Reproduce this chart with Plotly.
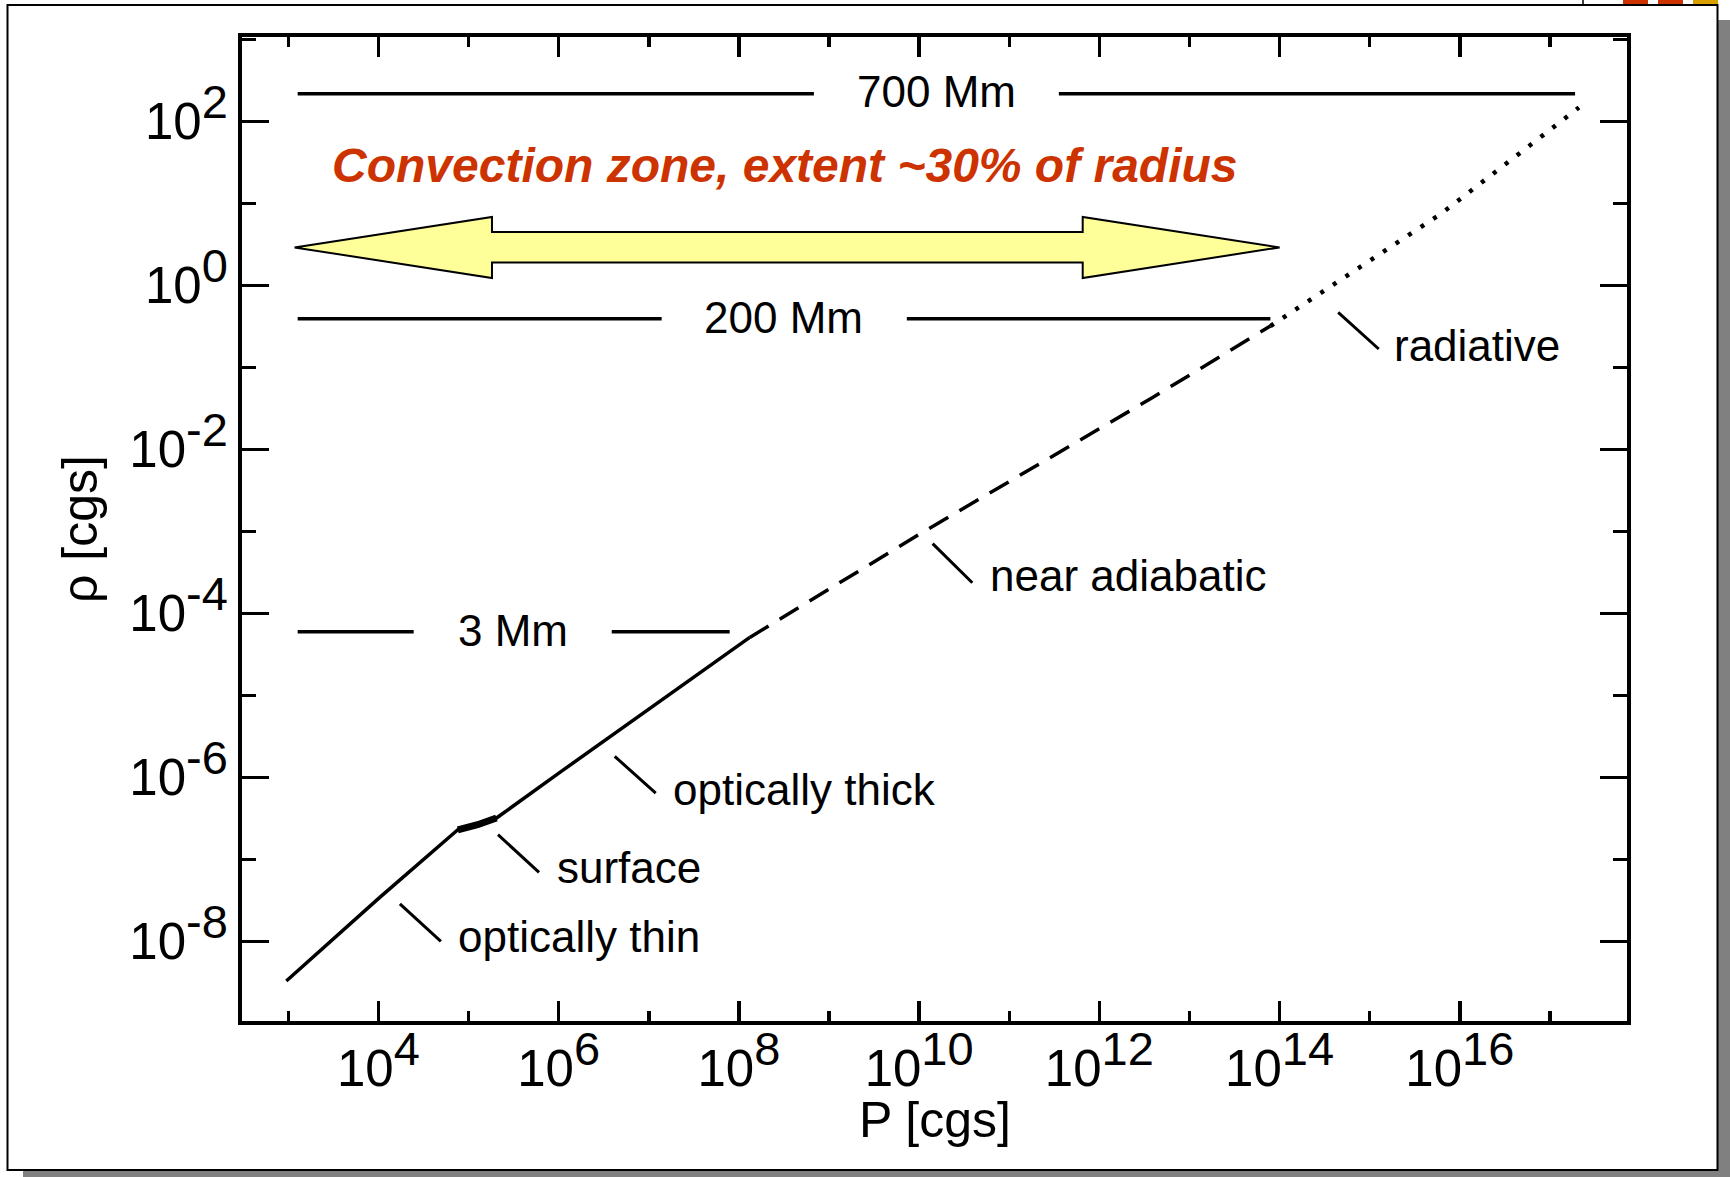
import plotly.graph_objects as go

# ---------------- data (cgs units) ----------------
P_solid = [9.5e2, 1.02e4, 7.6e4, 1.26e5, 2.04e5, 1.05e6, 2.63e6, 1.45e7, 1.32e8]
rho_solid = [3.3e-9, 3.4e-8, 2.3e-7, 2.7e-7, 3.2e-7, 1.17e-6, 2.4e-6, 8.9e-6, 5.1e-5]
P_surface = [7.6e4, 1.26e5, 2.04e5]
rho_surface = [2.3e-7, 2.65e-7, 3.2e-7]
P_dashed = [1.32e8, 9.8e9, 3.9e12, 7.9e13]
rho_dashed = [5.1e-5, 9.1e-4, 4.3e-2, 0.32]
P_dotted = [7.9e13, 6.3e15, 2.1e17]
rho_dotted = [0.32, 7.6, 148.0]

# depth scale bars
bar_labels = ["700 Mm", "200 Mm", "3 Mm"]
bar_rho = [2.18e2, 0.393, 6.0e-5]
bar_P_start = [1.27e3, 1.27e3, 1.27e3]
bar_P_gap_left = [6.8e8, 1.39e7, 2.46e4]
bar_P_gap_right = [3.55e11, 7.3e9, 3.88e6]
bar_P_end = [1.9e17, 7.9e13, 7.9e7]
bar_label_logP = [10.19, 8.50, 5.49]
bar_label_logrho = [2.363, -0.393, -4.21]

# region labels with leader strokes (log10 units)
region_labels = ["optically thin", "surface", "optically thick", "near adiabatic", "radiative"]
leader_logP0 = [4.238, 5.327, 6.622, 10.15, 14.65]
leader_logP1 = [4.693, 5.782, 7.077, 10.59, 15.10]
leader_logrho0 = [-7.541, -6.698, -5.743, -3.149, -0.329]
leader_logrho1 = [-8.00, -7.158, -6.19, -3.625, -0.775]
label_logP = [4.857, 5.956, 7.243, 10.76, 15.25]
label_logrho = [-7.936, -7.10, -6.149, -3.54, -0.735]

# convection-zone double arrow (log10 units)
arrow_logP = [3.069, 5.26, 5.26, 11.815, 11.815, 14.0, 11.815, 11.815, 5.26, 5.26, 3.069]
arrow_logrho = [0.464, 0.835, 0.652, 0.652, 0.835, 0.464, 0.091, 0.281, 0.281, 0.091, 0.464]

title_text = "Convection zone, extent ~30% of radius"

x_major = [4, 6, 8, 10, 12, 14, 16]
x_minor = [3, 5, 7, 9, 11, 13, 15, 17]
y_major = [-8, -6, -4, -2, 0, 2]
y_minor = [-7, -5, -3, -1, 1, 3]

FONT = "Liberation Sans, Arial, Helvetica, sans-serif"
W, H = 1730, 1177
ML, MR, MT, MB = 242, 103, 37, 156


def sup_label(e):
    return "10<sup><span style=\"font-size:47px\">%d</span></sup>" % e


fig = go.Figure()

line_black = dict(color="black", width=3.5)
fig.add_trace(go.Scatter(x=P_solid, y=rho_solid, mode="lines", line=line_black))
fig.add_trace(go.Scatter(x=P_surface, y=rho_surface, mode="lines",
                         line=dict(color="black", width=7)))
fig.add_trace(go.Scatter(x=P_dashed, y=rho_dashed, mode="lines",
                         line=dict(color="black", width=3.5, dash="22px,13px")))
fig.add_trace(go.Scatter(x=P_dotted, y=rho_dotted, mode="lines",
                         line=dict(color="black", width=4.5, dash="4px,11px")))

# scale bars
for i in range(len(bar_labels)):
    fig.add_trace(go.Scatter(x=[bar_P_start[i], bar_P_gap_left[i]], y=[bar_rho[i]] * 2,
                             mode="lines", line=line_black))
    fig.add_trace(go.Scatter(x=[bar_P_gap_right[i], bar_P_end[i]], y=[bar_rho[i]] * 2,
                             mode="lines", line=line_black))
    fig.add_annotation(x=bar_label_logP[i], y=bar_label_logrho[i], xref="x", yref="y",
                       text=bar_labels[i], showarrow=False, xanchor="center", yanchor="middle",
                       font=dict(family=FONT, size=44, color="black"))

# leaders + labels
for i in range(len(region_labels)):
    fig.add_trace(go.Scatter(x=[10 ** leader_logP0[i], 10 ** leader_logP1[i]],
                             y=[10 ** leader_logrho0[i], 10 ** leader_logrho1[i]],
                             mode="lines", line=dict(color="black", width=3)))
    fig.add_annotation(x=label_logP[i], y=label_logrho[i], xref="x", yref="y",
                       text=region_labels[i], showarrow=False, xanchor="left", yanchor="middle",
                       font=dict(family=FONT, size=44, color="black"))

# arrow
fig.add_trace(go.Scatter(x=[10 ** v for v in arrow_logP], y=[10 ** v for v in arrow_logrho],
                         mode="lines", fill="toself", fillcolor="#FFFF99",
                         line=dict(color="black", width=2)))

fig.add_annotation(x=8.51, y=1.46, xref="x", yref="y",
                   text="<b><i>%s</i></b>" % title_text, showarrow=False,
                   xanchor="center", yanchor="middle",
                   font=dict(family=FONT, size=48, color="#CC3300"))

# axis titles
fig.add_annotation(x=0.5, y=-0.1006, xref="paper", yref="paper", text="P [cgs]",
                   showarrow=False, xanchor="center", yanchor="middle",
                   font=dict(family=FONT, size=50, color="black"))
fig.add_annotation(x=(80 - ML) / (W - ML - MR), y=0.5, xref="paper", yref="paper",
                   text="\u03c1 [cgs]", textangle=-90, showarrow=False,
                   xanchor="center", yanchor="middle",
                   font=dict(family=FONT, size=50, color="black"))

# slide frame decorations (pixel -> paper helpers)
PW, PH = W - ML - MR, H - MT - MB


def px(x):
    return (x - ML) / PW


def py(y):
    return (H - MB - y) / PH


shapes = [
    dict(type="rect", xref="paper", yref="paper", x0=px(1718), x1=px(1730), y0=py(20), y1=py(1177),
         fillcolor="#808080", line=dict(width=0), layer="below"),
    dict(type="rect", xref="paper", yref="paper", x0=px(23), x1=px(1730), y0=py(1171), y1=py(1177),
         fillcolor="#808080", line=dict(width=0), layer="below"),
    dict(type="rect", xref="paper", yref="paper", x0=px(7.5), x1=px(1717.5), y0=py(5), y1=py(1170),
         line=dict(color="black", width=2), layer="below"),
    dict(type="line", xref="paper", yref="paper", x0=px(1583), x1=px(1583), y0=py(0), y1=py(5),
         line=dict(color="black", width=1.5), layer="below"),
    dict(type="rect", xref="paper", yref="paper", x0=px(1623), x1=px(1648), y0=py(0), y1=py(4),
         fillcolor="#CC3300", line=dict(width=0), layer="below"),
    dict(type="rect", xref="paper", yref="paper", x0=px(1658), x1=px(1683), y0=py(0), y1=py(4),
         fillcolor="#CC3300", line=dict(width=0), layer="below"),
    dict(type="rect", xref="paper", yref="paper", x0=px(1693), x1=px(1718), y0=py(0), y1=py(4),
         fillcolor="#D9A000", line=dict(width=0), layer="below"),
]

axis_common = dict(type="log", showgrid=False, zeroline=False, showline=True, linecolor="black",
                   linewidth=4, mirror="ticks", ticks="inside", tickcolor="black", tickwidth=3.5,
                   tickfont=dict(family=FONT, size=51, color="black"), tickmode="array")

fig.update_layout(
    width=W, height=H, margin=dict(l=ML, r=MR, t=MT, b=MB, pad=0),
    paper_bgcolor="white", plot_bgcolor="white", showlegend=False, hovermode=False,
    shapes=shapes,
    xaxis=dict(axis_common, range=[2.486, 17.855], ticklen=20,
               tickvals=[10 ** e for e in x_major], ticktext=[sup_label(e) for e in x_major],
               minor=dict(tickmode="array", tickvals=[10 ** e for e in x_minor], ticks="inside",
                          ticklen=10, tickwidth=3.5, tickcolor="black")),
    yaxis=dict(axis_common, range=[-8.97, 3.03], ticklen=27,
               tickvals=[10 ** e for e in y_major], ticktext=[sup_label(e) for e in y_major],
               minor=dict(tickmode="array", tickvals=[10 ** e for e in y_minor], ticks="inside",
                          ticklen=14, tickwidth=3.5, tickcolor="black")),
)

fig.write_html("out.html", config={"displayModeBar": False, "staticPlot": True},
               post_script="document.body.style.margin='0px';")
